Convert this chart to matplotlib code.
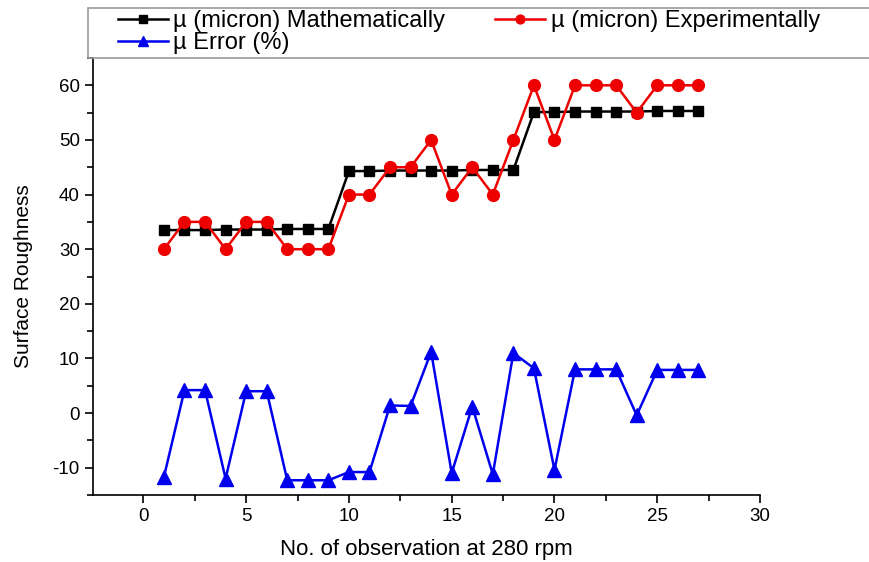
import numpy as np
import matplotlib
matplotlib.use("Agg")
import matplotlib.pyplot as plt
from matplotlib.ticker import MultipleLocator
from matplotlib.patches import Rectangle

plt.rcParams['font.family'] = ['Liberation Sans', 'DejaVu Sans']
plt.rcParams['axes.unicode_minus'] = False

# observations at 280 rpm
obs = list(range(1, 28))

mu_math = [33.5, 33.5, 33.5, 33.6, 33.6, 33.6, 33.7, 33.7, 33.7,
           44.3, 44.3, 44.4, 44.4, 44.4, 44.4, 44.5, 44.5, 44.5,
           55.1, 55.1, 55.2, 55.2, 55.2, 55.2, 55.3, 55.3, 55.3]

mu_exp = [30, 35, 35, 30, 35, 35, 30, 30, 30,
          40, 40, 45, 45, 50, 40, 45, 40, 50,
          60, 50, 60, 60, 60, 55, 60, 60, 60]

mu_err = [-11.7, 4.2, 4.2, -12.0, 4.0, 4.0, -12.3, -12.3, -12.3,
          -10.8, -10.8, 1.4, 1.3, 11.2, -11.0, 1.2, -11.2, 11.0,
          8.2, -10.4, 8.0, 8.0, 8.0, -0.4, 7.9, 7.9, 7.9]

fig = plt.figure(figsize=(8.7, 5.62), dpi=100)
ax = fig.add_axes([0.1069, 0.1192, 0.8736 - 0.1069, 0.8968 - 0.1192])

l1, = ax.plot(obs, mu_math, color='black', marker='s', markersize=7, linewidth=1.8,
              label='µ (micron) Mathematically')
l2, = ax.plot(obs, mu_exp, color='#ee0000', marker='o', markersize=8.5, linewidth=1.8,
              label='µ (micron) Experimentally')
l3, = ax.plot(obs, mu_err, color='#0000ee', marker='^', markersize=9.5, linewidth=1.8,
              label='µ Error (%)')

ax.set_xlim(-2.45, 30)
ax.set_ylim(-15, 65)
ax.xaxis.set_major_locator(MultipleLocator(5))
ax.xaxis.set_minor_locator(MultipleLocator(2.5))
ax.yaxis.set_minor_locator(MultipleLocator(5))
ax.set_yticks([-10, 0, 10, 20, 30, 40, 50, 60])

ax.spines['top'].set_visible(False)
ax.spines['right'].set_visible(False)
ax.spines['left'].set_linewidth(1.2)
ax.spines['bottom'].set_linewidth(1.2)
ax.tick_params(which='major', direction='out', length=6, width=1.2, labelsize=13.5)
ax.tick_params(which='minor', direction='out', length=4, width=1.2)

ax.set_xlabel('No. of observation at 280 rpm', fontsize=16, labelpad=10)
ax.set_ylabel('Surface Roughness', fontsize=15, labelpad=14)

# legend frame spanning the top of the figure
fig.patches.append(Rectangle((88 / 870, 0.8968), 782 / 870, 50 / 562,
                             transform=fig.transFigure, fill=False,
                             edgecolor='#999999', linewidth=1.2))

# column-wise fill: [math, err] in col 1, [exp] in col 2
fig.legend([l1, l3, l2], [l1.get_label(), l3.get_label(), l2.get_label()],
           loc='upper left', bbox_to_anchor=(118 / 870, 1 - 10 / 562),
           ncol=2, fontsize=17, markerscale=0.75, frameon=False,
           handlelength=2.1, handletextpad=0.25, labelspacing=0.0,
           columnspacing=2.1, borderpad=0, borderaxespad=0)

fig.savefig('out.png', dpi=100)
